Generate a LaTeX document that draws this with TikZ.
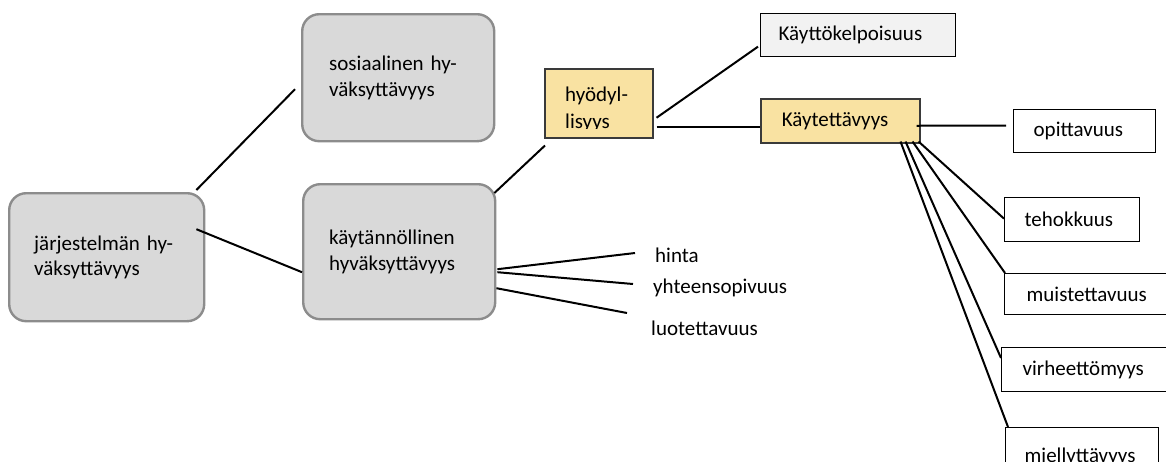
\documentclass[tikz,border=0pt]{standalone}
\usepackage{fontspec}
\setmainfont{Carlito}
\usetikzlibrary{calc}

\definecolor{greyfill}{HTML}{D9D9D9}
\definecolor{greyedge}{HTML}{8C8C8C}
\definecolor{goldfill}{HTML}{F9E2A2}
\definecolor{goldedge}{HTML}{3A3A3A}
\definecolor{paleFill}{HTML}{F2F2F2}

\tikzset{
  txt/.style={font=\fontsize{21}{25.6}\selectfont},
  roundbox/.style={txt, draw=greyedge, line width=2.4pt, fill=greyfill,
    rounded corners=17pt, anchor=north west, align=left, inner ysep=0pt},
  goldbox/.style={txt, draw=goldedge, line width=1.5pt, fill=goldfill,
    anchor=north west, align=left, inner ysep=0pt},
  plainbox/.style={txt, draw=black, line width=1.3pt, fill=white,
    anchor=north west, align=left, inner ysep=0pt},
  label/.style={txt, anchor=west, inner sep=0pt},
  link/.style={line width=2pt, black},
}

\begin{document}
\begin{tikzpicture}[x=1pt, y=-1pt]
\useasboundingbox (0,0) rectangle (1166,461);
\clip (0,0) rectangle (1166,461);

% grey rounded boxes
\node[roundbox, minimum width=195pt, minimum height=128pt, inner xsep=25pt, text width=145pt]
  (jarj) at (8,192) {järjestelmän hy-\\väksyttävyys};
\node[roundbox, minimum width=192pt, minimum height=127pt, inner xsep=27pt, text width=138pt]
  (sos) at (301,13) {sosiaalinen hy-\\väksyttävyys};
\node[roundbox, minimum width=192pt, minimum height=135pt, inner xsep=26pt, text width=140pt]
  (kayt) at (302,183) {käytännöllinen\\hyväksyttävyys};

% gold boxes
\node[goldbox, minimum width=108pt, minimum height=69pt] (hyod) at (544,68) {};
\begin{scope}
  \clip (545,69) rectangle (651,128);
  \node[txt, anchor=west, align=left, inner sep=0pt,
        font=\fontsize{21}{27}\selectfont] (hyodtext) at (565,109) {hyödyl-\\lisyys};
\end{scope}
\node[goldbox, minimum width=159pt, minimum height=44pt, inner xsep=21pt, text width=117pt]
  (kaytet) at (760,98) {Käytettävyys};

% white boxes
\node[plainbox, fill=paleFill, minimum width=195pt, minimum height=43pt, inner xsep=18pt, text width=159pt]
  (kelp) at (760,13) {Käyttökelpoisuus};
\node[plainbox, minimum width=142pt, minimum height=43pt, inner xsep=20pt, text width=102pt]
  (opit) at (1013,109) {opittavuus};
\node[plainbox, minimum width=135pt, minimum height=44pt, inner xsep=20pt, text width=95pt]
  (teho) at (1004,197) {tehokkuus};
\node[plainbox, minimum width=176pt, minimum height=41pt, inner xsep=22pt, text width=132pt]
  (muist) at (1004,273) {muistettavuus};
\node[plainbox, minimum width=179pt, minimum height=44pt, inner xsep=21pt, text width=137pt]
  (virhe) at (1001,347) {virheettömyys};
\node[plainbox, minimum width=153pt, minimum height=58pt, inner xsep=19pt, text width=115pt]
  (miel) at (1005,427) {miellyttävyys};

% free labels
\node[label] (hinta) at (655,255) {hinta};
\node[label] (yht) at (653,288) {yhteensopivuus};
\node[label] (luot) at (651,328) {luotettavuus};

% connectors
\draw[link] ([shift={(-9,-2)}]jarj.north east) -- ([shift={(-6,11.5)}]sos.west);
\draw[link] ([shift={(-9,-28)}]jarj.east) -- ([shift={(0,20.5)}]kayt.west);
\draw[link] ([shift={(-2,10)}]kayt.north east) -- ([shift={(1,7)}]hyod.south west);
\draw[link] ([shift={(3,14.5)}]hyod.east) -- ([shift={(-2,11.5)}]kelp.west);
\draw[link] ([shift={(3,23.5)}]hyod.east) -- ([shift={(0,6)}]kaytet.west);
\draw[link] ([shift={(-4,5)}]kaytet.east) -- ([shift={(-7,-5.5)}]opit.west);
\draw[link] ([shift={(-2,-2)}]kaytet.south east) -- ([shift={(0,-1)}]teho.west);
\draw[link] ([shift={(-8,-2)}]kaytet.south east) -- ([shift={(1,0)}]muist.north west);
\draw[link] ([shift={(-15,-2)}]kaytet.south east) -- ([shift={(0,11)}]virhe.north west);
\draw[link] ([shift={(-20,-2)}]kaytet.south east) -- ([shift={(3,0)}]miel.north west);
\draw[link] ([shift={(1,17.5)}]kayt.east) -- ([shift={(-20,-2)}]hinta.west);
\draw[link] ([shift={(1,20.5)}]kayt.east) -- ([shift={(-20,-4)}]yht.west);
\draw[link] ([shift={(0,36.5)}]kayt.east) -- ([shift={(-24,-15)}]luot.west);
\end{tikzpicture}
\end{document}
